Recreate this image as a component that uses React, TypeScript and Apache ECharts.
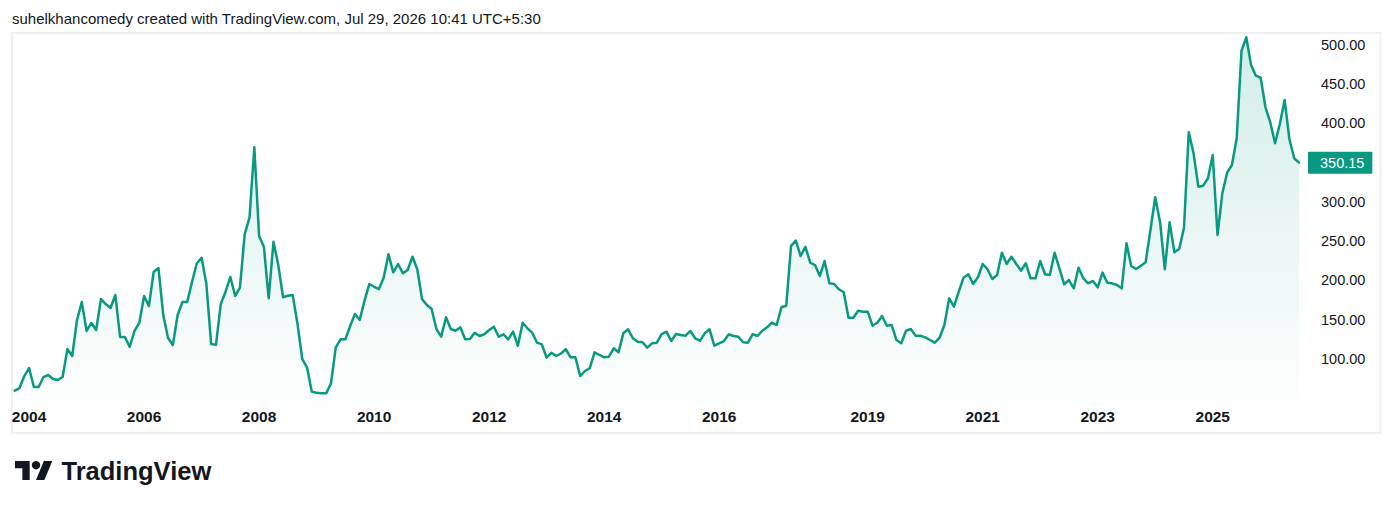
import React, { useEffect, useRef } from "react";
import * as echarts from "echarts";

// Monthly closes, first bar ~Oct 2003, last bar = 350.15
const closes: number[] = [
  59.6, 63, 78.3, 88.5, 64.3, 64.3, 77, 79.6, 74.5, 73.2,
  77, 112.7, 103.8, 149.7, 172.6, 135.7, 145.9, 136.9, 176.4, 170,
  165, 181.5, 128, 128, 115.3, 135.7, 145.9, 180.3, 167.5, 210.8,
  215.9, 156, 126.8, 117.8, 156, 172.6, 172.6, 198, 222, 229,
  195.5, 119, 118, 170, 185.7, 204.5, 180.3, 190.8, 259, 280,
  369.7, 256.7, 243, 177.3, 249.4, 219.7, 178.6, 180.6, 181.5, 145.5,
  100, 89.4, 58.4, 57, 56.3, 56.3, 69, 114.9, 125, 125,
  142, 157.3, 149.7, 174.3, 195.5, 192, 189, 203.6, 233.4, 210.4,
  221, 209.2, 213.4, 230.3, 214.6, 176.4, 168.8, 163.7, 138.2, 128.4,
  153.1, 138.2, 136, 140.4, 125.1, 125.5, 133.5, 129.3, 131.5, 137,
  141.1, 128.4, 131.5, 125.1, 134.8, 116.9, 146.2, 139.1, 133.5, 120.8,
  118.7, 101.7, 108, 103.8, 107, 112.4, 102.2, 102.2, 78.3, 84.7,
  88.2, 108.5, 105.1, 102.2, 102.9, 113.6, 108.5, 132.7, 137.8, 126.4,
  122, 121.3, 114.4, 120, 120.8, 131.8, 134.8, 122.9, 131.8, 130.6,
  129.7, 135.7, 126.4, 123.3, 132.7, 137.8, 116.9, 120, 122.9, 131.5,
  129.3, 128.4, 121.3, 120.8, 131.8, 129.3, 136, 140.4, 146.2, 143.3,
  165.9, 167.9, 244, 250.7, 231.2, 243, 222.7, 219.7, 205.7, 224.8,
  196.4, 195.5, 188.8, 185, 152.6, 152.6, 161.5, 160.3, 160.3, 142.4,
  146.2, 154.8, 142.4, 143.3, 124.2, 120, 136, 138.2, 129.7, 129.7,
  127.6, 124.2, 120.8, 127.1, 143.3, 177.3, 166.6, 185.7, 203.6, 207.9,
  195.5, 204.1, 221, 214.3, 201.9, 207, 235.4, 221, 230.3, 221,
  212.5, 221.9, 202.8, 202.8, 224.8, 207.9, 207, 235.4, 215.5, 195.1,
  200.6, 190.1, 216.3, 202.8, 196.4, 199.4, 191.3, 210, 197.2, 196.4,
  194.3, 190.1, 247.4, 218.5, 214.6, 218.9, 223.2, 264.3, 306, 274.9,
  214.3, 274.1, 235.9, 240.1, 267.3, 388.8, 362, 319.5, 320.8, 330.2,
  359.9, 258, 311.1, 337.3, 347.1, 381.1, 492.7, 509.8, 474.5, 460.9,
  458.3, 420.6, 401.5, 374.8, 399.4, 430, 379.9, 355.7, 350.15,
];

const yearLabelIndex: number[] = [3, 27, 51, 75, 99, 123, 147, 178, 202, 226, 250];
const yearLabels: string[] = ["2004", "2006", "2008", "2010", "2012", "2014", "2016", "2019", "2021", "2023", "2025"];
const priceTicks: number[] = [100, 150, 200, 250, 300, 350, 400, 450, 500];
const lastPrice = 350.15;
const titleText = "suhelkhancomedy created with TradingView.com, Jul 29, 2026 10:41 UTC+5:30";
const brandText = "TradingView";

const FONT = '"Liberation Sans", Arial, sans-serif';
const GREEN = "#089981";
const INK = "#131722";

export default function App() {
  const ref = useRef<HTMLDivElement | null>(null);

  useEffect(() => {
    if (!ref.current) return;
    const chart = echarts.init(ref.current, undefined, { renderer: "svg" });
    const categories = closes.map((_, i) => String(i));

    chart.setOption({
      animation: false,
      backgroundColor: "#ffffff",
      grid: { left: 14.7, right: 95, top: 34, bottom: 102.9, containLabel: false },
      xAxis: {
        type: "category",
        data: categories,
        boundaryGap: false,
        axisLine: { show: false },
        axisTick: { show: false },
        splitLine: { show: false },
        axisLabel: {
          interval: (index: number) => yearLabelIndex.indexOf(index) >= 0,
          formatter: (_v: string, index: number) => {
            const k = yearLabelIndex.indexOf(index);
            return k >= 0 ? yearLabels[k] : "";
          },
          color: INK,
          fontFamily: FONT,
          fontSize: 15.5,
          fontWeight: "bold",
          margin: 10.5,
          verticalAlign: "middle",
        },
      },
      yAxis: {
        type: "value",
        position: "right",
        min: 40,
        max: 514,
        axisLine: { show: false },
        axisTick: { show: false },
        splitLine: { show: false },
        axisLabel: {
          customValues: priceTicks,
          formatter: (v: number) => v.toFixed(2),
          color: INK,
          fontFamily: FONT,
          fontSize: 14.5,
          margin: 22,
        },
      },
      series: [
        {
          type: "line",
          data: closes,
          symbol: "none",
          showSymbol: false,
          lineStyle: { color: GREEN, width: 2.5, join: "round", cap: "round" },
          areaStyle: {
            origin: "start",
            color: new echarts.graphic.LinearGradient(0, 0, 0, 1, [
              { offset: 0, color: "rgba(8,153,129,0.25)" },
              { offset: 1, color: "rgba(8,153,129,0.01)" },
            ]),
          },
          markLine: {
            silent: true,
            symbol: "none",
            lineStyle: { color: "transparent", width: 0 },
            data: [{ yAxis: lastPrice }],
            label: {
              show: true,
              position: "end",
              distance: 9,
              formatter: lastPrice.toFixed(2),
              color: "#ffffff",
              backgroundColor: GREEN,
              padding: [4, 8, 3, 12],
              fontFamily: FONT,
              fontSize: 14.5,
              borderRadius: 1,
            },
          },
        },
      ],
      graphic: [
        {
          type: "rect",
          z: -1,
          silent: true,
          shape: { x: 12, y: 33, width: 1368.5, height: 400 },
          style: { fill: "none", stroke: "#eff0f3", lineWidth: 2 },
        },
        {
          type: "text",
          x: 12,
          y: 18,
          silent: true,
          style: {
            text: titleText,
            fill: INK,
            fontFamily: FONT,
            fontSize: 15,
            verticalAlign: "middle",
          },
        },
        {
          type: "group",
          x: 15,
          y: 456.8,
          scaleX: 1.05,
          scaleY: 1.05,
          silent: true,
          children: [
            {
              type: "polygon",
              shape: { points: [[0, 4], [14, 4], [14, 22], [7, 22], [7, 11], [0, 11]] },
              style: { fill: INK },
            },
            {
              type: "polygon",
              shape: { points: [[20, 22], [27.5, 4], [35.5, 4], [28, 22]] },
              style: { fill: INK },
            },
            {
              type: "circle",
              shape: { cx: 20, cy: 8, r: 4 },
              style: { fill: INK },
            },
          ],
        },
        {
          type: "text",
          x: 61.5,
          y: 470.5,
          silent: true,
          style: {
            text: brandText,
            fill: INK,
            fontFamily: FONT,
            fontSize: 25.5,
            fontWeight: "bold",
            verticalAlign: "middle",
          },
        },
      ],
    });

    return () => {
      chart.dispose();
    };
  }, []);

  return (
    <div
      ref={ref}
      style={{ position: "fixed", left: 0, top: 0, width: 1394, height: 509, background: "#ffffff" }}
    />
  );
}
